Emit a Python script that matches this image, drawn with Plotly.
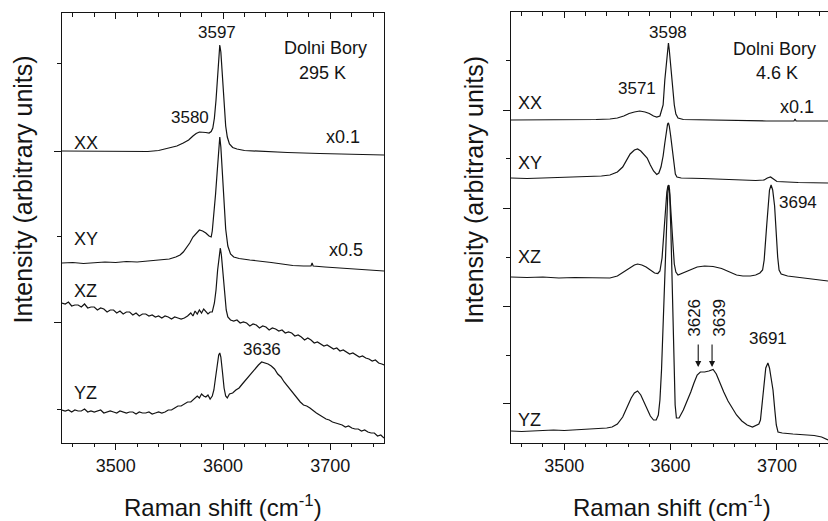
import plotly.graph_objects as go

# ---------------- data (wavenumber in cm-1, intensity in arbitrary units, offsets included) ----------------
# Left panel: 295 K
L_XX_wn = [3450, 3470, 3490, 3510, 3530, 3540, 3550, 3557, 3563, 3568, 3572, 3575, 3578, 3581, 3584, 3587, 3589,
           3590.5, 3592, 3593.5, 3595, 3596, 3597, 3598, 3599, 3600, 3601, 3602.5, 3604, 3606, 3609, 3613, 3620,
           3635, 3660, 3690, 3720, 3750]
L_XX_int = [292, 292, 291.5, 291.5, 291.5, 292.5, 295, 297, 300, 303, 307, 309.5, 311, 311, 310.5, 310, 311.5,
            315, 325, 343, 368, 385, 398, 391, 375, 353, 335, 317, 306, 299, 295.5, 294, 292.5,
            291.5, 290.5, 289.5, 288.5, 288]

L_XY_wn = [3450, 3460, 3470, 3480, 3490, 3500, 3510, 3520, 3530, 3541, 3550, 3556, 3560, 3563, 3566, 3569, 3572,
           3575, 3578, 3581, 3584, 3587, 3589, 3590, 3591.5, 3593, 3594.5, 3596, 3597, 3598, 3599.5, 3601, 3602.5,
           3604.5, 3607, 3610, 3615, 3625, 3635, 3645, 3655, 3665, 3675, 3682, 3683, 3684, 3695, 3710, 3725,
           3740, 3750]
L_XY_int = [180, 180.5, 179.5, 180.5, 181, 180.5, 181.5, 181, 182, 182.5, 184, 186, 188, 191, 195, 200, 206,
            210, 213, 212, 210, 207, 206, 212, 227, 248, 270, 293, 306, 296, 268, 238, 214,
            197, 189, 186, 184.5, 183, 182, 180.5, 179, 177.5, 177, 177, 180, 177, 176, 175, 174,
            173, 172]

L_XZ_wn = [3450, 3453, 3456, 3459, 3462, 3465, 3468, 3471, 3474, 3477, 3480, 3483, 3486, 3489, 3492, 3495, 3498,
           3501, 3504, 3507, 3510, 3513, 3516, 3519, 3522, 3525, 3528, 3531, 3534, 3537, 3540, 3543, 3546, 3549,
           3552, 3555, 3558, 3561, 3564, 3567, 3570, 3572, 3574, 3576, 3578, 3580, 3582, 3584, 3586, 3588, 3590,
           3592, 3593.5, 3595, 3596.5, 3597.5, 3598.5, 3600, 3601, 3602, 3603, 3604.5, 3607, 3610, 3613, 3616,
           3619, 3622, 3625, 3628, 3631, 3634, 3637, 3640, 3643, 3646, 3649, 3652, 3655, 3658, 3661, 3664, 3667,
           3670, 3673, 3676, 3679, 3682, 3685, 3688, 3691, 3694, 3697, 3700, 3703, 3706, 3709, 3712, 3715, 3718,
           3721, 3724, 3727, 3730, 3733, 3736, 3739, 3742, 3745, 3748, 3750]
L_XZ_int = [140, 139, 141, 137, 138, 138, 136, 139, 135, 136, 136, 133, 135, 134, 131, 133, 133,
            130, 132, 129, 131, 131, 128, 130, 127, 129, 129, 127, 128, 126, 127, 125, 127, 126,
            124, 126, 125, 124, 125, 127, 130, 127, 132, 129, 133, 130, 134, 131, 129, 131, 131,
            140, 153, 173, 189, 195, 188, 171, 153, 141, 133, 126, 123, 122, 123, 120,
            121, 120, 117, 119, 118, 115, 117, 116, 113, 115, 114, 112, 113, 110, 111, 110, 107,
            108, 106, 103, 105, 103, 100, 101, 99, 97, 98, 96, 94, 95, 92, 93, 91, 89,
            90, 88, 86, 87, 85, 84, 82, 83, 80, 79, 78]

L_YZ_wn = [3450, 3453, 3456, 3459, 3462, 3465, 3468, 3471, 3474, 3477, 3480, 3483, 3486, 3489, 3492, 3495, 3498,
           3501, 3504, 3507, 3510, 3513, 3516, 3519, 3522, 3525, 3528, 3531, 3534, 3537, 3540, 3543, 3546, 3549,
           3552, 3555, 3558, 3561, 3564, 3567, 3570, 3573, 3576, 3578, 3580, 3582, 3584, 3586, 3588, 3590, 3591.5,
           3593, 3594.5, 3596, 3597, 3598, 3599.5, 3601, 3602.5, 3604, 3606, 3609, 3612, 3615, 3618, 3621, 3624,
           3627, 3630, 3633, 3636, 3639, 3642, 3645, 3648, 3651, 3654, 3657, 3660, 3663, 3666, 3669, 3672, 3675,
           3678, 3681, 3684, 3687, 3690, 3693, 3696, 3699, 3702, 3705, 3708, 3711, 3714, 3717, 3720, 3723, 3726,
           3729, 3732, 3735, 3738, 3741, 3744, 3747, 3750]
L_YZ_int = [33, 32, 33, 31, 33, 32, 32, 34, 31, 32, 31, 32, 33, 30, 31, 32, 31,
            30, 32, 31, 30, 31, 31, 29, 31, 30, 30, 31, 29, 30, 31, 30, 31, 33,
            33, 35, 37, 37, 39, 41, 41, 44, 47, 45, 49, 47, 46, 48, 44, 47, 53,
            65, 79, 88, 90, 86, 71, 55, 47, 45, 49, 50, 53, 55, 59, 63, 66,
            71, 75, 78, 81, 80, 79, 77, 74, 69, 66, 61, 57, 52, 48, 45, 41, 38,
            37, 35, 32, 30, 28, 26, 24, 23, 21, 20, 19, 18, 16, 17, 15, 14, 14,
            12, 13, 11, 10, 10, 7, 8, 5]

# Right panel: 4.6 K
R_XX_wn = [3450, 3470, 3490, 3510, 3530, 3543, 3550, 3556, 3561, 3566, 3571, 3576, 3580, 3584, 3587, 3590, 3592,
           3593, 3594.6, 3596.2, 3597.2, 3598, 3598.8, 3599.8, 3601.4, 3603.5, 3605, 3607, 3612, 3630, 3660, 3690,
           3716, 3717, 3718, 3735, 3748]
R_XX_int = [323, 323, 323, 323, 323.5, 324, 325, 327, 329.5, 331, 332, 331, 329.5, 327, 326, 327, 333,
            338, 363, 380, 393, 400, 393, 380, 363, 338, 329, 325, 323.5, 323, 322.5, 322,
            322, 324, 322, 322, 322]

R_XY_wn = [3450, 3465, 3480, 3495, 3510, 3525, 3535, 3543, 3550, 3555, 3559, 3562, 3566, 3569, 3572, 3575, 3578,
           3581, 3584, 3587, 3589, 3591, 3593, 3594.6, 3596.2, 3597.2, 3598, 3598.8, 3600, 3601.4, 3603, 3604.5,
           3606, 3610, 3630, 3660, 3680, 3688, 3691, 3694, 3697, 3700, 3720, 3748]
R_XY_int = [265, 264.5, 265, 265.5, 266, 266.5, 267, 268, 271, 276, 283, 289, 293, 294, 292, 289, 285,
            278, 272, 268.5, 270, 276, 287, 300, 313, 319, 320, 317, 308, 295, 278, 269,
            266, 265, 264.5, 263.5, 262.5, 263, 265, 266, 264, 261.5, 260.5, 260]

R_XZ_wn = [3450, 3465, 3480, 3495, 3510, 3525, 3543, 3550, 3556, 3561, 3566, 3569, 3573, 3577, 3581, 3585, 3588,
           3590, 3592, 3593.5, 3595, 3596.5, 3597.5, 3598.2, 3599, 3600.5, 3602, 3603.5, 3605, 3607, 3612, 3618,
           3625, 3632, 3640, 3648, 3655, 3662, 3668, 3675, 3680, 3684, 3686.5, 3688, 3690.4, 3691.5, 3693,
           3694.5, 3696, 3697.8, 3698.8, 3700.7, 3702, 3704, 3710, 3720, 3735, 3748]
R_XZ_int = [166, 165.5, 166, 165, 165.5, 165, 165, 167, 171, 175, 178, 179, 178, 176, 173, 170, 169.5,
            172, 185, 208, 233, 251, 257, 258, 254, 233, 203, 179, 171, 168, 170, 173,
            176, 177, 176.5, 174.5, 171, 168, 167, 167, 168, 170, 173, 183, 218, 238, 253,
            258, 253, 237, 218, 186, 173, 169, 167, 165.5, 164, 162]

R_YZ_wn = [3450, 3460, 3470, 3480, 3490, 3500, 3510, 3520, 3530, 3540, 3545, 3550, 3555, 3559, 3563, 3566, 3569,
           3572, 3575, 3578, 3581, 3584, 3586.5, 3588.5, 3590, 3591.5, 3593, 3594.3, 3595.3, 3596.5, 3597.5,
           3598.3, 3599.2, 3600.3, 3601.3, 3602.4, 3603.3, 3604.3, 3605.5, 3608, 3612, 3616, 3619, 3622, 3625,
           3628, 3632, 3636, 3640, 3643, 3646, 3650, 3654, 3658, 3662, 3667, 3672, 3677, 3681, 3683, 3684.5,
           3686, 3687.6, 3689.5, 3691.5, 3693, 3694.5, 3696.3, 3698, 3699.4, 3701, 3705, 3715, 3725, 3735,
           3742, 3748]
R_YZ_int = [12, 11.5, 12, 12.5, 13, 12.5, 13, 13.5, 14, 15, 16, 19, 26, 36, 45, 50, 52,
            48, 41, 33, 27, 23, 23, 28, 43, 73, 120, 163, 193, 233, 253,
            258, 248, 213, 173, 120, 73, 38, 25, 25, 33, 43, 51, 60, 68,
            71, 71, 72, 73.5, 69, 61, 51, 42, 35, 28, 22, 18, 16, 18, 19, 23,
            38, 53, 75, 80, 75, 65, 53, 33, 18, 11, 10, 9, 8, 7.5,
            6, 3]

X_MAJOR = [3500, 3600, 3700]
X_MINOR = [3460, 3480, 3520, 3540, 3560, 3580, 3620, 3640, 3660, 3680, 3720, 3740]
X_LABELS = ["3500", "3600", "3700"]

# ---------------- figure ----------------
W, H = 828, 521
FONT = "Liberation Sans, Arial, Helvetica, sans-serif"
INK = "#141414"

fig = go.Figure()

def add(wn, val, xa, ya):
    fig.add_trace(go.Scatter(x=wn, y=val, mode="lines", xaxis=xa, yaxis=ya,
                             line=dict(color=INK, width=1.2), hoverinfo="skip", showlegend=False))

for wn, val in [(L_XX_wn, L_XX_int), (L_XY_wn, L_XY_int), (L_XZ_wn, L_XZ_int), (L_YZ_wn, L_YZ_int)]:
    add(wn, val, "x", "y")
for wn, val in [(R_XX_wn, R_XX_int), (R_XY_wn, R_XY_int), (R_XZ_wn, R_XZ_int), (R_YZ_wn, R_YZ_int)]:
    add(wn, val, "x2", "y2")
# empty traces to hold the top tick axes
fig.add_trace(go.Scatter(x=[None], y=[None], xaxis="x3", yaxis="y", showlegend=False, hoverinfo="skip"))
fig.add_trace(go.Scatter(x=[None], y=[None], xaxis="x4", yaxis="y2", showlegend=False, hoverinfo="skip"))

L_dom = [62 / W, 384 / W]
R_dom = [511 / W, 1.0]
Y_dom_L = [(H - 443) / H, (H - 13) / H]
Y_dom_R = [(H - 443) / H, (H - 12) / H]
L_range = [3450, 3750]
R_range = [3450, 3748]

def bottom_axis(dom, rng, anchor, mirror):
    return dict(domain=dom, range=rng, anchor=anchor, showline=True, linecolor=INK, linewidth=1.4,
                mirror=mirror, ticks="outside", tickvals=X_MAJOR, ticktext=X_LABELS, ticklen=6,
                tickwidth=1, tickcolor=INK, showgrid=False, zeroline=False,
                tickfont=dict(family=FONT, size=18, color=INK),
                minor=dict(tickvals=X_MINOR, ticks="outside", ticklen=3, tickwidth=1, tickcolor=INK, showgrid=False))

def top_axis(rng, over, anchor):
    return dict(range=rng, overlaying=over, anchor=anchor, side="top", showline=False, showgrid=False,
                zeroline=False, ticks="inside", tickvals=X_MAJOR, ticklen=6, tickwidth=1, tickcolor=INK,
                showticklabels=False,
                minor=dict(tickvals=X_MINOR, ticks="inside", ticklen=4, tickwidth=1, tickcolor=INK, showgrid=False))

fig.update_layout(
    width=W, height=H, autosize=False,
    margin=dict(l=0, r=0, t=0, b=0),
    paper_bgcolor="white", plot_bgcolor="white",
    font=dict(family=FONT, color=INK),
    xaxis=bottom_axis(L_dom, L_range, "y", True),
    xaxis2=bottom_axis(R_dom, R_range, "y2", True),
    xaxis3=top_axis(L_range, "x", "y"),
    xaxis4=top_axis(R_range, "x2", "y2"),
    yaxis=dict(domain=Y_dom_L, range=[0, 430], anchor="x", showline=True, linecolor=INK, linewidth=1.4,
               mirror=True, ticks="outside", tickvals=[121, 292], ticklen=7, tickwidth=1, tickcolor=INK,
               showticklabels=False, showgrid=False, zeroline=False,
               minor=dict(tickvals=[34, 207, 380], ticks="outside", ticklen=4, tickwidth=1, tickcolor=INK,
                          showgrid=False)),
    yaxis2=dict(domain=Y_dom_R, range=[0, 431], anchor="x2", showline=True, linecolor=INK, linewidth=1.4,
                mirror=False, ticks="outside", tickvals=[40, 137, 235, 333], ticklen=7, tickwidth=1,
                tickcolor=INK, showticklabels=False, showgrid=False, zeroline=False,
                minor=dict(tickvals=[88, 186, 285, 383], ticks="outside", ticklen=4, tickwidth=1, tickcolor=INK,
                           showgrid=False)),
)

ann = []

def txt(x, y, s, xr, yr, size=17):
    ann.append(dict(x=x, y=y, xref=xr, yref=yr, text=s, showarrow=False, xanchor="center", yanchor="middle",
                    font=dict(family=FONT, size=size, color=INK)))

# left panel labels
txt(3594.2, 411, "3597", "x", "y")
txt(3695.6, 395, "Dolni Bory", "x", "y", 18)
txt(3692.8, 370, "295 K", "x", "y", 18)
txt(3569.1, 326, "3580", "x", "y")
txt(3472.3, 300, "XX", "x", "y", 18)
txt(3711.4, 306, "x0.1", "x", "y", 18)
txt(3472.3, 204, "XY", "x", "y", 18)
txt(3714.2, 193, "x0.5", "x", "y", 18)
txt(3472.3, 152, "XZ", "x", "y", 18)
txt(3472.3, 50, "YZ", "x", "y", 18)
txt(3636.0, 94, "3636", "x", "y")

# right panel labels
txt(3597.4, 410, "3598", "x2", "y2")
txt(3697.9, 394, "Dolni Bory", "x2", "y2", 18)
txt(3699.8, 370, "4.6 K", "x2", "y2", 18)
txt(3568.3, 354, "3571", "x2", "y2")
txt(3467.8, 340, "XX", "x2", "y2", 18)
txt(3718.5, 336, "x0.1", "x2", "y2", 18)
txt(3467.8, 280, "XY", "x2", "y2", 18)
txt(3719.5, 241, "3694", "x2", "y2")
txt(3467.8, 186, "XZ", "x2", "y2", 18)
txt(3691.3, 105, "3691", "x2", "y2")
txt(3467.8, 23, "YZ", "x2", "y2", 18)

for xv, lab, lx in [(3626, "3626", 3621.8), (3639, "3639", 3645.3)]:
    ann.append(dict(x=lx, y=125, xref="x2", yref="y2", text=lab, textangle=-90, showarrow=False,
                    xanchor="center", yanchor="middle", font=dict(family=FONT, size=17, color=INK)))
    ann.append(dict(x=xv, y=76, xref="x2", yref="y2", ax=xv, ay=100, axref="x2", ayref="y2", text="",
                    showarrow=True, arrowhead=2, arrowsize=1.1, arrowwidth=1.1, arrowcolor=INK))

# axis titles
for xc in [22.5 / W, 474 / W]:
    ann.append(dict(x=xc, y=(H - 190) / H, xref="paper", yref="paper", text="Intensity (arbitrary units)",
                    textangle=-90, showarrow=False, xanchor="center", yanchor="middle",
                    font=dict(family=FONT, size=25, color=INK)))
for xc in [223 / W, 672 / W]:
    ann.append(dict(x=xc, y=(H - 505.5) / H, xref="paper", yref="paper", text="Raman shift (cm<sup>-1</sup>)",
                    showarrow=False, xanchor="center", yanchor="middle",
                    font=dict(family=FONT, size=24, color=INK)))

fig.update_layout(annotations=ann)
fig.write_html("out.html", config={"displayModeBar": False},
               post_script="document.body.style.margin='0';document.body.style.overflow='hidden';")
